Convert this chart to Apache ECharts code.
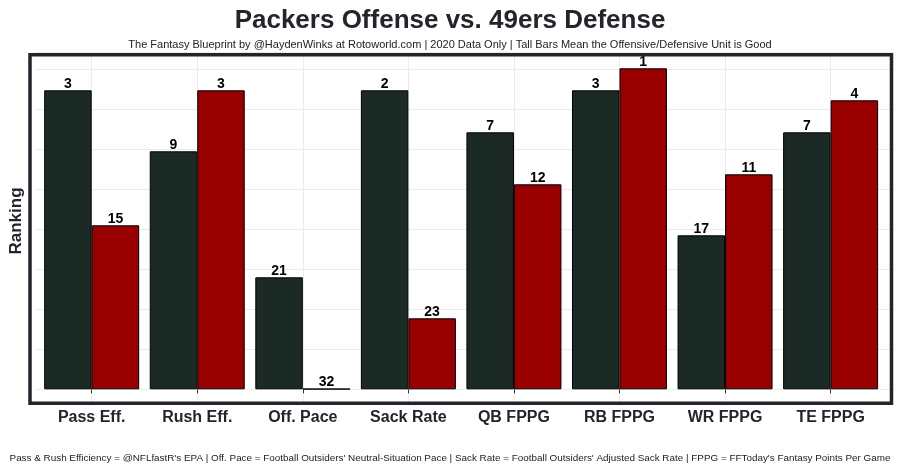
<!DOCTYPE html>
<html style="height: 100%">
<head>
    <meta charset="utf-8">
</head>
<body style="height: 100%; margin: 0; background: #fff">
    <div id="container" style="width: 900px; height: 467px"></div>
    <script src="https://cdn.jsdelivr.net/npm/echarts@6/dist/echarts.min.js"></script>
    <script type="text/javascript">
        // categories and ranks shown on the bars
        var categories = ['Pass Eff.', 'Rush Eff.', 'Off. Pace', 'Sack Rate', 'QB FPPG', 'RB FPPG', 'WR FPPG', 'TE FPPG'];
        var offenseRank = [3, 9, 21, 2, 7, 3, 17, 7];
        var defenseRank = [15, 3, 32, 23, 12, 1, 11, 4];
        // bar heights (gridline every 4)
        var offenseValue = [29.9, 23.8, 11.2, 29.9, 25.7, 29.9, 15.4, 25.7];
        var defenseValue = [16.4, 29.9, 0.05, 7.1, 20.5, 32.1, 21.5, 28.9];

        var font = 'Liberation Sans, Arial, sans-serif';
        var dom = document.getElementById('container');
        var myChart = echarts.init(dom);

        var yMax = 33.66;

        var label = function (ranks) {
            return {
                show: true,
                position: 'top',
                distance: -1,
                fontFamily: font,
                fontWeight: 'bold',
                fontSize: 14,
                color: '#000',
                formatter: function (p) { return ranks[p.dataIndex]; }
            };
        };

        myChart.setOption({
            animation: false,
            backgroundColor: '#fff',
            title: [
                {
                    text: 'Packers Offense vs. 49ers Defense',
                    left: 'center', top: 3,
                    textStyle: { fontFamily: font, fontSize: 26, fontWeight: 'bold', color: '#22252b' }
                },
                {
                    text: 'The Fantasy Blueprint by @HaydenWinks at Rotoworld.com | 2020 Data Only | Tall Bars Mean the Offensive/Defensive Unit is Good',
                    left: 'center', top: 34,
                    textStyle: { fontFamily: font, fontSize: 11, fontWeight: 'normal', color: '#222' }
                },
                {
                    text: "Pass & Rush Efficiency = @NFLfastR's EPA | Off. Pace = Football Outsiders' Neutral-Situation Pace | Sack Rate = Football Outsiders' Adjusted Sack Rate | FPPG = FFToday's Fantasy Points Per Game",
                    left: 'center', top: 448,
                    textStyle: { fontFamily: font, fontSize: 9.9, fontWeight: 'normal', color: '#222' }
                }
            ],
            grid: [
                // full panel: horizontal gridlines
                { left: 28.3, right: 6, top: 52.7, bottom: 77.7 },
                // bars
                { left: 38.9, right: 16.6, top: 52.7, bottom: 77.7 },
                // vertical gridlines at category centres
                { left: 91.7, right: 69.3, top: 52.7, bottom: 62 }
            ],
            xAxis: [
                { gridIndex: 0, type: 'value', show: false },
                {
                    gridIndex: 1, type: 'category', data: categories,
                    offset: 16.2,
                    axisLine: { show: false },
                    axisTick: { show: true, alignWithLabel: true, length: 4, lineStyle: { color: '#333' } },
                    axisLabel: { margin: 4, fontFamily: font, fontSize: 16, fontWeight: 'bold', color: '#22252b' },
                    splitLine: { show: false }
                },
                {
                    gridIndex: 2, type: 'category', data: categories, boundaryGap: false,
                    axisLine: { show: false }, axisTick: { show: false }, axisLabel: { show: false },
                    splitLine: { show: true, lineStyle: { color: '#ebebeb', width: 1 } }
                }
            ],
            yAxis: [
                {
                    gridIndex: 0, type: 'value', min: 0, max: yMax, interval: 4,
                    name: 'Ranking', nameLocation: 'middle', nameGap: 10,
                    nameTextStyle: { fontFamily: font, fontSize: 17, fontWeight: 'bold', color: '#22252b' },
                    axisLine: { show: false }, axisTick: { show: false }, axisLabel: { show: false },
                    splitLine: { show: true, lineStyle: { color: '#ebebeb', width: 1 } }
                },
                { gridIndex: 1, type: 'value', min: 0, max: yMax, show: false, splitLine: { show: false } },
                { gridIndex: 2, type: 'value', min: 0, max: 1, show: false, splitLine: { show: false } }
            ],
            series: [
                {
                    name: 'Offense', type: 'bar', xAxisIndex: 1, yAxisIndex: 1,
                    barCategoryGap: '10%', barGap: '0%',
                    itemStyle: { color: '#1b2a25', borderColor: '#000', borderWidth: 1 },
                    label: label(offenseRank),
                    data: offenseValue
                },
                {
                    name: 'Defense', type: 'bar', xAxisIndex: 1, yAxisIndex: 1,
                    barCategoryGap: '10%', barGap: '0%',
                    itemStyle: { color: '#990000', borderColor: '#000', borderWidth: 1 },
                    label: label(defenseRank),
                    data: defenseValue
                }
            ],
            graphic: [
                {
                    type: 'rect', z: 100, silent: true,
                    shape: { x: 30, y: 54.7, width: 861.5, height: 348.6 },
                    style: { fill: 'none', stroke: '#22252b', lineWidth: 3.5 }
                }
            ]
        });
    </script>
</body>
</html>
